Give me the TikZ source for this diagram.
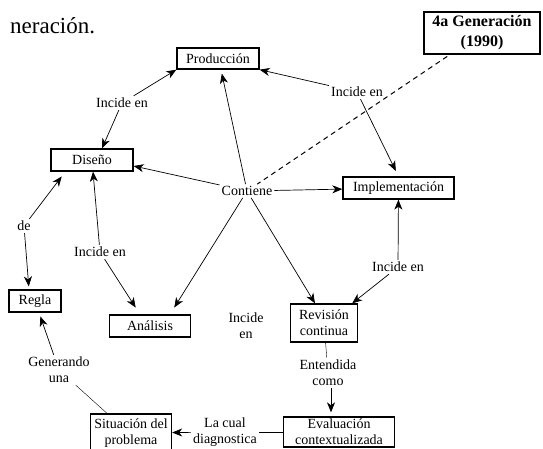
\documentclass[tikz,border=0pt]{standalone}
\usepackage{fontspec}
\setmainfont{Liberation Serif}
\usetikzlibrary{arrows.meta}

\tikzset{
	concepto/.style={draw, line width=1.3pt, inner sep=2pt, align=center, font=\fontsize{14}{16}\selectfont},
	enlace/.style={inner sep=2pt, align=center, font=\fontsize{14}{16}\selectfont},
	flecha/.style={-{Stealth[length=10pt,width=8pt,inset=3pt]}, line width=0.7pt},
}

\begin{document}
\begin{tikzpicture}[x=1pt,y=-1pt]
		\useasboundingbox (0,0) rectangle (543,448);

		% titulo (cortado)
		\node[anchor=west, inner sep=0pt, font=\fontsize{23}{26}\selectfont] (titulo) at (10,26) {neración.};

		% conceptos
		\node[concepto, minimum width=82, minimum height=21] (prod) at (218,58.5) {Producción};
		\node[concepto, minimum width=82, minimum height=22] (dis) at (92,160) {Diseño};
		\node[concepto, minimum width=111, minimum height=22] (impl) at (398.5,188) {Implementación};
		\node[concepto, minimum width=52, minimum height=22] (regla) at (35,301) {Regla};
		\node[concepto, minimum width=81, minimum height=22] (ana) at (150,326) {Análisis};
		\node[concepto, minimum width=67, minimum height=38] (rev) at (324,323) {Revisión\\continua};
		\node[concepto, inner sep=1pt, minimum width=111, minimum height=30] (eval) at (339,432) {Evaluación\\contextualizada};
		\node[concepto, minimum width=81, minimum height=38] (sit) at (131,433) {Situación del\\problema};
		\node[concepto, line width=1.5pt, font=\bfseries\fontsize{16}{20}\selectfont, minimum width=116, minimum height=42] (gen) at (482,33) {4a Generación\\(1990)};

		% enlaces
		\node[enlace] (inc1) at (122,103) {Incide en};
		\node[enlace] (inc2) at (357,92) {Incide en};
		\node[enlace] (cont) at (247,191) {Contiene};
		\node[enlace] (inc3) at (100,252) {Incide en};
		\node[enlace] (inc4) at (398,267) {Incide en};
		\node[enlace] (de) at (24,226) {de};
		\node[enlace] (inc5) at (246,326) {Incide\\en};
		\node[enlace] (ent) at (328,373) {Entendida\\como};
		\node[enlace] (gener) at (59,370) {Generando\\una};
		\node[enlace] (cual) at (225,432) {La cual\\diagnostica};

		% flechas
		\draw[flecha] (inc1) -- (prod.south west);
		\draw[flecha] (inc1) -- ([xshift=10]dis.north);
		\draw[flecha] (inc2) -- (prod.south east);
		\draw[flecha, shorten >=6pt] (inc2) -- (impl.north);
		\draw[flecha] (cont) -- ([yshift=-6]dis.east);
		\draw[flecha, shorten >=4pt] (cont) -- ([xshift=3]prod.south);
		\draw[flecha] (cont) -- (impl);
		\draw[flecha, shorten >=8pt] (cont) -- ([xshift=20]ana.north);
		\draw[flecha] (cont) -- ([xshift=-9]rev.north);
		\draw[flecha] (inc3) -- ([xshift=1]dis.south);
		\draw[flecha, shorten >=8pt] (inc3) -- ([xshift=-10]ana.north);
		\draw[flecha] (inc4) -- (impl);
		\draw[flecha] (inc4) -- ([xshift=-6]rev.north east);
		\draw[flecha, shorten >=6pt] (de) -- ([xshift=15]dis.south west);
		\draw[flecha, shorten >=3pt] (de) -- ([xshift=-6]regla.north);
		\draw[flecha, shorten >=4pt] (gener) -- (regla);
		\draw (rev) -- (ent);
		\draw[flecha, shorten >=4pt] ([xshift=3]ent.south) -- ([xshift=-8]eval.north);
		\draw (eval) -- (cual);
		\draw[flecha] (cual) -- (sit);
		\draw ([xshift=-24]sit.north) -- (gener);

		% 4a generacion
		\draw[dashed, line width=1pt, dash pattern=on 5pt off 4pt, shorten <=3pt] (gen) -- (cont);

	\end{tikzpicture}
\end{document}
